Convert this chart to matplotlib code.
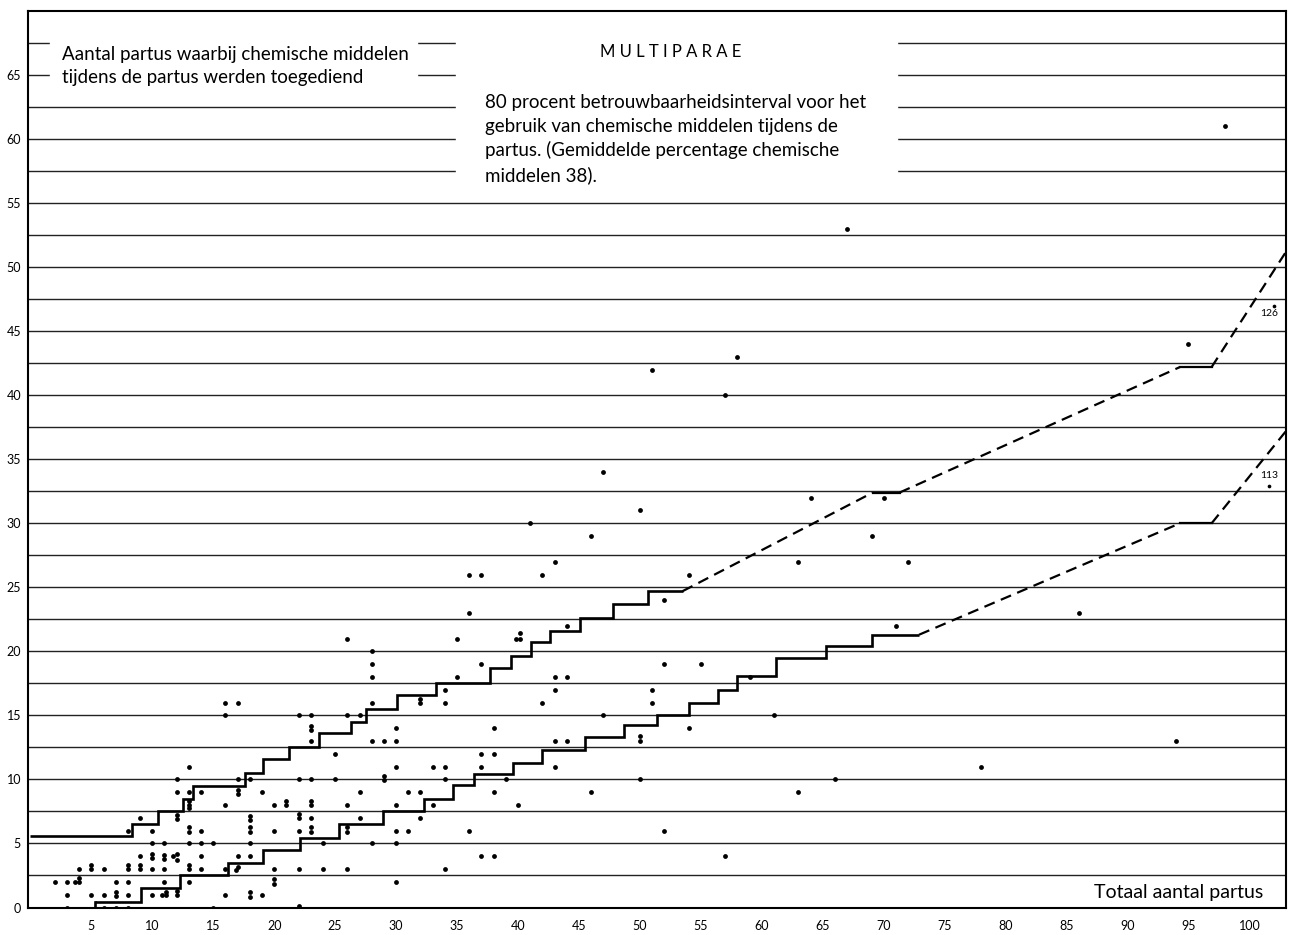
import matplotlib.pyplot as plt
from matplotlib.patches import Rectangle
import numpy as np

plt.rcParams['font.family'] = ['Lato', 'DejaVu Sans']

# observed cases: (total partus, partus with chemical means)
dots_x = [2, 3, 3, 3, 3.7, 4, 4, 4, 5, 5, 5, 6, 6, 6, 7, 7, 7, 7,
          8, 8, 8, 8, 8, 8, 9, 9, 9, 9, 10, 10, 10, 10, 10, 10,
          11, 11, 11, 11, 11, 10.8, 11.1, 11.1,
          11.7, 12, 12, 12, 12, 12, 12, 12, 12,
          13, 13, 13, 13, 13, 13, 13, 13, 13, 13, 13,
          14, 14, 14, 14, 14, 15, 15, 16, 16, 16, 16, 16,
          17, 17, 17, 17, 17, 17, 16.9,
          18, 18, 18, 18, 18, 18, 18, 18, 18, 19, 19,
          20, 20, 20, 20, 20, 21, 21,
          22, 22, 22, 22, 22, 22, 22,
          23, 23, 23, 23, 23, 23, 23, 23, 23, 23,
          24, 24, 25, 25, 26, 26, 26, 26, 26, 26, 27, 27, 27,
          28, 28, 28, 28, 28, 28, 29, 29, 29,
          30, 30, 30, 30, 30, 30, 30, 31, 31, 32, 32, 32, 32, 33, 33,
          34, 34, 34, 34, 34, 35, 35, 36, 36, 36,
          37, 37, 37, 37, 37, 38, 38, 38, 38, 39,
          39.8, 40.2, 40.2, 40, 41, 42, 42, 43, 43, 43, 43, 43,
          44, 44, 44, 46, 46, 47, 47, 50, 50, 50, 50, 51, 51, 51,
          52, 52, 52, 54, 54, 55, 57, 57, 58, 59, 61, 63, 63, 64,
          66, 67, 69, 70, 71, 72, 78, 86, 94, 95, 98]
dots_y = [2, 2, 1, 0, 2, 2, 2.3, 3, 3.3, 3, 1, 3, 1, 0, 2, 1.2, 0.9, 0,
          6, 3.3, 3, 2, 1, 0, 7, 4, 3.3, 3, 6, 5, 4.2, 3.9, 3, 1,
          5, 4.1, 3.8, 3, 2, 1, 1.25, 0.95,
          4, 4.2, 3.7, 1.3, 1, 10, 9, 7.2, 6.9,
          11, 9, 8.3, 8, 7.75, 6.25, 5.9, 5, 3.3, 3, 2,
          9, 6, 5, 4, 3, 5, 0, 16, 15, 8, 3, 1,
          16, 10, 9.15, 8.85, 4, 3.2, 2.95,
          10, 7.15, 6.8, 6.25, 5.9, 5, 4, 1.2, 0.85, 9, 1,
          8, 6, 3, 2.2, 1.85, 8.3, 8,
          15, 10, 7.3, 7, 6, 3, 0.1,
          15, 14.2, 13.85, 13, 10, 8.3, 8, 7, 6.25, 5.9,
          5, 3, 12, 10, 21, 15, 8, 6.25, 5.9, 3, 15, 9, 7,
          20, 19, 18, 16, 13, 5, 13, 10.3, 9.95,
          14, 13, 11, 8, 6, 5, 2, 9, 6, 16.3, 15.95, 9, 7, 11, 8,
          17, 16, 11, 10, 3, 21, 18, 26, 23, 6,
          26, 19, 12, 11, 4, 14, 12, 9, 4, 10,
          21, 21.4, 21, 8, 30, 26, 16, 27, 18, 17, 13, 11,
          22, 18, 13, 29, 9, 34, 15, 31, 13.4, 13, 10, 42, 17, 16,
          24, 19, 6, 26, 14, 19, 40, 4, 43, 18, 15, 27, 9, 32,
          10, 53, 29, 32, 22, 27, 11, 23, 13, 44, 61]

# cases beyond the scale, drawn at the right edge with their count
far_x = [102, 101.6]
far_y = [47, 32.9]
far_labels = ['126', '113']

# 80 % interval, upper bound (steps)
upper_edges = [0, 8.3, 10.5, 12.5, 13.3, 17.6, 19.1, 21.2, 23.7, 26.3, 27.5,
               30.1, 33.3, 37.7, 39.4, 41.1, 42.6, 45.1, 47.8, 50.7, 53.5]
upper_levels = [5.6, 6.5, 7.5, 8.5, 9.5, 10.5, 11.6, 12.5, 13.6, 14.5,
                15.5, 16.6, 17.5, 18.7, 19.6, 20.7, 21.6, 22.6, 23.7, 24.7]
upper_ext_x = [53.5, 69.1, 71.3, 94.3, 96.9, 103]
upper_ext_y = [24.7, 32.4, 32.4, 42.2, 42.2, 51.2]

# lower bound (steps)
lower_edges = [5.3, 9.1, 12.3, 16.25, 19.1, 22.1, 25.3, 28.9, 32.3, 34.7,
               36.4, 39.6, 42.0, 45.5, 48.7, 51.4, 54.0, 56.4, 58.0, 61.2,
               65.3, 69.0, 72.9]
lower_levels = [0.45, 1.5, 2.5, 3.5, 4.5, 5.45, 6.5, 7.5, 8.45, 9.55,
                10.45, 11.3, 12.3, 13.35, 14.26, 15.0, 15.94, 17.0, 18.1,
                19.5, 20.4, 21.3]
lower_ext_x = [72.9, 94.3, 96.9, 103]
lower_ext_y = [21.3, 30.0, 30.0, 37.2]

fig = plt.figure(figsize=(12.94, 9.35), dpi=100)
ax = fig.add_axes([0.0216, 0.0294, 0.9722, 0.9588])
ax.set_xlim(-0.2, 103)
ax.set_ylim(0, 70)

# ruled lines every 2.5
for yy in np.arange(2.5, 70, 2.5):
    ax.axhline(yy, color='#222222', lw=1.0, zorder=1)

# white areas behind the texts
ax.add_patch(Rectangle((1.6, 63.4), 30.1, 6.0, color='white', zorder=2))
ax.add_patch(Rectangle((34.9, 56.2), 36.2, 13.2, color='white', zorder=2))

ax.stairs(upper_levels, upper_edges, baseline=None, color='black', lw=1.9, zorder=3)
ax.stairs(lower_levels, lower_edges, baseline=None, color='black', lw=1.9, zorder=3)
ax.plot([lower_edges[0], lower_edges[0]], [0, lower_levels[0]], color='black', lw=1.9, zorder=3)

dash = (0, (5, 3))
for i in range(len(upper_ext_x) - 1):
    ls = dash if i % 2 == 0 else '-'
    ax.plot(upper_ext_x[i:i + 2], upper_ext_y[i:i + 2], color='black', lw=1.6,
            linestyle=ls, zorder=3)
for i in range(len(lower_ext_x) - 1):
    ls = dash if i % 2 == 0 else '-'
    ax.plot(lower_ext_x[i:i + 2], lower_ext_y[i:i + 2], color='black', lw=1.6,
            linestyle=ls, zorder=3)

ax.scatter(dots_x, dots_y, s=12, color='black', zorder=4, linewidths=0)
ax.scatter(far_x, far_y, s=7, color='black', zorder=4, linewidths=0)
ax.text(101.6, 46.4, far_labels[0], fontsize=7.5, ha='center', va='center', zorder=5)
ax.text(101.6, 33.7, far_labels[1], fontsize=7.5, ha='center', va='center', zorder=5)

ax.text(2.6, 65.7, 'Aantal partus waarbij chemische middelen\ntijdens de partus werden toegediend',
        fontsize=13.5, ha='left', va='center', linespacing=1.4, zorder=5)
ax.text(52.5, 66.8, 'M U L T I P A R A E', fontsize=12, ha='center', va='center', zorder=5)
ax.text(37.3, 60.0, '80 procent betrouwbaarheidsinterval voor het\n'
        'gebruik van chemische middelen tijdens de\n'
        'partus. (Gemiddelde percentage chemische\n'
        'middelen 38).', fontsize=13.5, ha='left', va='center', linespacing=1.45, zorder=5)
ax.text(101.1, 1.2, 'Totaal aantal partus', fontsize=14, ha='right', va='center', zorder=5)

ax.set_xticks(np.arange(5, 101, 5))
ax.set_yticks(np.arange(0, 66, 5))
ax.tick_params(length=0, labelsize=9)
ax.tick_params(axis='y', pad=5)
ax.tick_params(axis='x', pad=9)
for s in ax.spines.values():
    s.set_linewidth(1.5)

fig.savefig('out.png', dpi=100)
